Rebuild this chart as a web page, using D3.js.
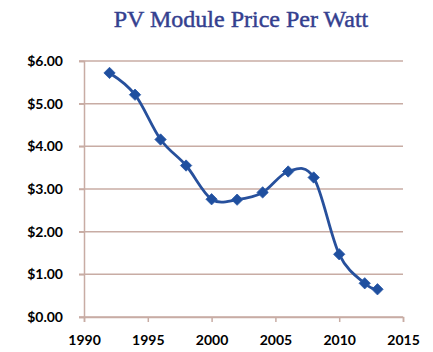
<!DOCTYPE html>
<html>
<head>
<meta charset="utf-8">
<script src="https://cdn.jsdelivr.net/npm/d3@7"></script>
<style>
  html, body { margin: 0; padding: 0; background: #fff; }
</style>
</head>
<body>
<div id="chart"></div>
<script>
// data
const years  = [1992, 1994, 1996, 1998, 2000, 2002, 2004, 2006, 2008, 2010, 2012, 2013];
const prices = [5.72, 5.21, 4.16, 3.55, 2.76, 2.75, 2.92, 3.41, 3.27, 1.47, 0.79, 0.65];
const xTicks = [1990, 1995, 2000, 2005, 2010, 2015];
const yTicks = [0, 1, 2, 3, 4, 5, 6];

const width = 433, height = 352;
const margin = { top: 61, right: 30, bottom: 35, left: 84 };

const svg = d3.select('#chart').append('svg')
  .attr('width', width)
  .attr('height', height)
  .attr('viewBox', [0, 0, width, height]);

const x = d3.scaleLinear().domain([1990, 2015]).range([margin.left, width - margin.right]);
const y = d3.scaleLinear().domain([0, 6]).range([height - margin.bottom, margin.top]);

const gridColor = '#c8aca4';

// title
svg.append('text')
  .attr('x', 241)
  .attr('y', 27)
  .attr('text-anchor', 'middle')
  .attr('font-family', '"Liberation Serif", "Times New Roman", serif')
  .attr('font-size', 24)
  .attr('fill', '#34408f')
  .attr('stroke', '#34408f')
  .attr('stroke-width', 0.45)
  .text('PV Module Price Per Watt');

// gridlines
svg.append('g')
  .selectAll('line')
  .data(yTicks)
  .join('line')
  .attr('x1', margin.left - 5)
  .attr('x2', x(2015))
  .attr('y1', d => y(d))
  .attr('y2', d => y(d))
  .attr('stroke', gridColor)
  .attr('stroke-width', 1.5);

// y axis
const yAxis = svg.append('g')
  .attr('transform', `translate(${margin.left},0)`)
  .call(d3.axisLeft(y).tickValues(yTicks).tickFormat(d => '$' + d3.format('.2f')(d)).tickSize(5).tickPadding(16));
yAxis.select('.domain').attr('stroke', gridColor).attr('stroke-width', 1.5);
yAxis.selectAll('.tick line').attr('stroke', gridColor).attr('stroke-width', 1.5);
yAxis.selectAll('text')
  .attr('font-family', 'Lato, "Open Sans", sans-serif')
  .attr('font-weight', 'bold')
  .attr('font-size', 14)
  .attr('fill', '#000');

// x axis
const xAxis = svg.append('g')
  .attr('transform', `translate(0,${y(0)})`)
  .call(d3.axisBottom(x).tickValues(xTicks).tickFormat(d3.format('d')).tickSize(5).tickPadding(13));
xAxis.select('.domain').attr('stroke', gridColor).attr('stroke-width', 1.5);
xAxis.selectAll('.tick line').attr('stroke', gridColor).attr('stroke-width', 1.5);
xAxis.selectAll('text')
  .attr('font-family', 'Lato, "Open Sans", sans-serif')
  .attr('font-weight', 'bold')
  .attr('font-size', 14)
  .attr('fill', '#000');

// smoothed line
const line = d3.line()
  .x((d, i) => x(years[i]))
  .y(d => y(d))
  .curve(d3.curveCardinal.tension(0));

svg.append('path')
  .datum(prices)
  .attr('d', line)
  .attr('fill', 'none')
  .attr('stroke', '#27509c')
  .attr('stroke-width', 2.8);

// diamond markers
svg.append('g')
  .selectAll('path')
  .data(prices)
  .join('path')
  .attr('d', d3.symbol(d3.symbolSquare, 64))
  .attr('transform', (d, i) => `translate(${x(years[i])},${y(d)}) rotate(45)`)
  .attr('fill', '#1f4f9f')
  .attr('stroke', '#2a5aa8')
  .attr('stroke-width', 0.8);
</script>
</body>
</html>
